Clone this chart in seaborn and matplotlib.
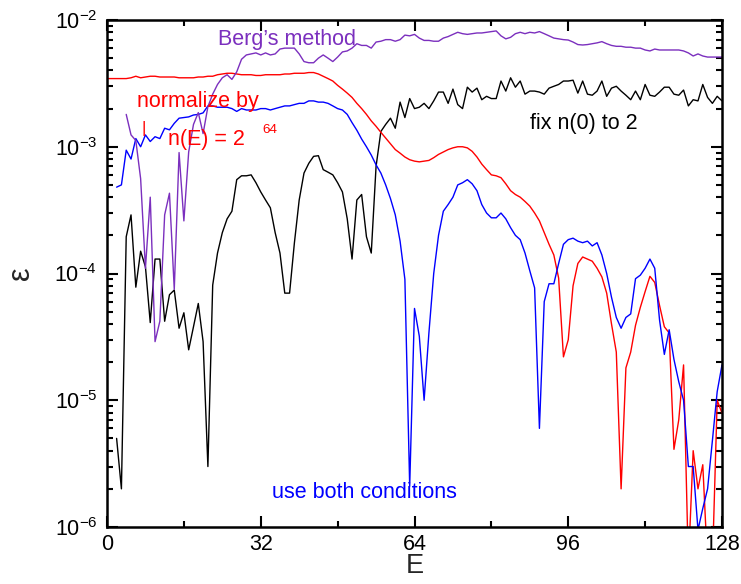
import numpy as np
import pandas as pd
import seaborn as sns
import matplotlib
matplotlib.use("Agg")
import matplotlib.pyplot as plt
from matplotlib.ticker import MultipleLocator, LogLocator, FuncFormatter, NullFormatter

# ---------------- data ----------------
E_red = list(range(0, 129))
red = [3.45e-3, 3.45e-3, 3.45e-3, 3.45e-3, 3.45e-3, 3.5e-3, 3.6e-3, 3.5e-3, 3.55e-3, 3.6e-3,
       3.6e-3, 3.55e-3, 3.55e-3, 3.55e-3, 3.55e-3, 3.5e-3, 3.5e-3, 3.5e-3, 3.5e-3, 3.55e-3,
       3.55e-3, 3.6e-3, 3.6e-3, 3.7e-3, 3.75e-3, 3.8e-3, 3.8e-3, 3.75e-3, 3.7e-3, 3.7e-3,
       3.7e-3, 3.65e-3, 3.65e-3, 3.7e-3, 3.7e-3, 3.7e-3, 3.7e-3, 3.75e-3, 3.75e-3, 3.8e-3,
       3.8e-3, 3.8e-3, 3.85e-3, 3.85e-3, 3.75e-3, 3.6e-3, 3.45e-3, 3.3e-3, 3.05e-3, 2.85e-3,
       2.65e-3, 2.45e-3, 2.2e-3, 2.0e-3, 1.8e-3, 1.6e-3, 1.45e-3, 1.3e-3, 1.17e-3, 1.05e-3,
       9.5e-4, 8.9e-4, 8.3e-4, 7.9e-4, 7.7e-4, 7.6e-4, 7.7e-4, 7.8e-4, 8.2e-4, 8.7e-4,
       9.1e-4, 9.5e-4, 9.8e-4, 1.0e-3, 1.0e-3, 9.8e-4, 9.2e-4, 8.3e-4, 7.3e-4, 6.6e-4,
       6.0e-4, 5.9e-4, 5.7e-4, 5.1e-4, 4.5e-4, 4.2e-4, 4.0e-4, 3.7e-4, 3.4e-4, 3.0e-4,
       2.6e-4, 2.1e-4, 1.7e-4, 1.4e-4, 9.2e-5, 2.2e-5, 3.0e-5, 8.0e-5, 1.2e-4, 1.35e-4,
       1.3e-4, 1.25e-4, 1.1e-4, 9.4e-5, 7.0e-5, 4.0e-5, 2.4e-5, 2.0e-6, 1.8e-5, 2.4e-5,
       3.9e-5, 5.4e-5, 7.2e-5, 9.5e-5, 8.5e-5, 5.6e-5, 3.8e-5, 3.4e-5, 4.1e-6, 7.0e-6,
       1.9e-5, 5.0e-7, 4.0e-6, 2.0e-6, 3.1e-6, 5.0e-7, 5.0e-7, 1.0e-5, 7.9e-6]

E_blue = list(range(2, 129))
blue = [4.8e-4, 5.0e-4, 9.4e-4, 8.0e-4, 1.16e-3, 1.0e-3, 1.24e-3, 1.1e-3, 1.2e-3, 1.16e-3,
        1.4e-3, 1.36e-3, 1.53e-3, 1.68e-3, 1.7e-3, 1.72e-3, 1.78e-3, 1.8e-3, 1.85e-3, 2.1e-3,
        2.1e-3, 2.05e-3, 2.05e-3, 2.05e-3, 2.0e-3, 1.9e-3, 2.0e-3, 1.95e-3, 1.95e-3, 1.95e-3,
        2.0e-3, 2.0e-3, 1.95e-3, 2.0e-3, 2.05e-3, 2.1e-3, 2.1e-3, 2.15e-3, 2.2e-3, 2.2e-3,
        2.3e-3, 2.3e-3, 2.25e-3, 2.25e-3, 2.2e-3, 2.1e-3, 2.0e-3, 1.95e-3, 1.8e-3, 1.55e-3,
        1.35e-3, 1.15e-3, 1.0e-3, 8.6e-4, 7.2e-4, 6.2e-4, 5.0e-4, 3.9e-4, 2.9e-4, 1.8e-4,
        9.0e-5, 2.1e-6, 5.3e-5, 3.2e-5, 1.0e-5, 3.4e-5, 1.0e-4, 2.0e-4, 3.1e-4, 3.5e-4,
        4.0e-4, 5.0e-4, 5.2e-4, 5.5e-4, 5.1e-4, 4.5e-4, 3.5e-4, 3.0e-4, 2.75e-4, 2.75e-4,
        3.0e-4, 2.7e-4, 2.3e-4, 2.0e-4, 1.85e-4, 1.45e-4, 1.05e-4, 7.7e-5, 6.0e-6, 6.0e-5,
        8.3e-5, 8.3e-5, 1.2e-4, 1.7e-4, 1.85e-4, 1.9e-4, 1.8e-4, 1.75e-4, 1.8e-4, 1.65e-4,
        1.75e-4, 1.4e-4, 1.0e-4, 6.5e-5, 4.5e-5, 3.7e-5, 4.5e-5, 4.8e-5, 9.1e-5, 9.7e-5,
        1.1e-4, 1.3e-4, 1.1e-4, 4.3e-5, 2.3e-5, 3.6e-5, 2.1e-5, 1.4e-5, 1.0e-5, 3.0e-6,
        3.0e-6, 9.5e-7, 1.4e-6, 2.0e-6, 4.8e-6, 1.17e-5, 1.9e-5]

E_black = list(range(2, 129))
black = [5.0e-6, 2.0e-6, 1.95e-4, 2.9e-4, 7.8e-5, 1.5e-4, 1.13e-4, 4.1e-5, 1.3e-4, 1.3e-4,
         4.2e-5, 6.8e-5, 7.4e-5, 3.7e-5, 4.9e-5, 2.5e-5, 3.8e-5, 5.8e-5, 2.9e-5, 3.0e-6,
         8.1e-5, 1.45e-4, 2.1e-4, 2.7e-4, 3.1e-4, 5.5e-4, 5.9e-4, 5.9e-4, 6.0e-4, 5.2e-4,
         4.4e-4, 3.8e-4, 3.3e-4, 2.1e-4, 1.45e-4, 7.0e-5, 7.0e-5, 1.74e-4, 3.8e-4, 6.2e-4,
         7.4e-4, 8.4e-4, 8.5e-4, 6.6e-4, 6.3e-4, 6.0e-4, 5.2e-4, 4.4e-4, 2.7e-4, 1.3e-4,
         3.8e-4, 4.2e-4, 1.95e-4, 1.45e-4, 7.0e-4, 1.32e-3, 1.5e-3, 1.68e-3, 1.4e-3, 2.25e-3,
         1.7e-3, 2.4e-3, 2.0e-3, 2.05e-3, 2.2e-3, 2.0e-3, 2.3e-3, 2.7e-3, 2.7e-3, 2.2e-3,
         2.85e-3, 2.15e-3, 2.0e-3, 2.95e-3, 2.7e-3, 2.9e-3, 2.35e-3, 2.5e-3, 2.4e-3, 2.4e-3,
         3.3e-3, 2.75e-3, 3.5e-3, 2.95e-3, 3.3e-3, 2.6e-3, 2.75e-3, 2.75e-3, 2.7e-3, 2.6e-3,
         2.9e-3, 3.0e-3, 3.1e-3, 3.3e-3, 3.3e-3, 3.35e-3, 2.65e-3, 3.3e-3, 2.6e-3, 2.55e-3,
         2.75e-3, 3.3e-3, 2.5e-3, 2.9e-3, 3.0e-3, 2.75e-3, 2.55e-3, 2.35e-3, 2.75e-3, 2.35e-3,
         3.1e-3, 2.55e-3, 2.5e-3, 2.7e-3, 2.95e-3, 2.95e-3, 2.6e-3, 2.55e-3, 2.8e-3, 2.1e-3,
         2.35e-3, 2.3e-3, 3.1e-3, 2.45e-3, 2.2e-3, 2.5e-3, 2.3e-3]

E_berg = list(range(4, 129))
berg = [1.8e-3, 1.24e-3, 1.12e-3, 5.6e-4, 1.1e-4, 4.0e-4, 2.9e-5, 4.2e-5, 2.9e-4, 4.3e-4,
        7.5e-5, 9.0e-4, 2.6e-4, 9.1e-4, 1.5e-3, 1.86e-3, 1.27e-3, 2.07e-3, 2.6e-3, 3.1e-3,
        3.5e-3, 3.7e-3, 3.4e-3, 3.9e-3, 4.9e-3, 5.3e-3, 5.4e-3, 5.5e-3, 5.3e-3, 5.5e-3,
        5.3e-3, 5.4e-3, 5.9e-3, 6.0e-3, 6.0e-3, 6.0e-3, 5.4e-3, 4.7e-3, 4.6e-3, 4.6e-3,
        5.0e-3, 5.3e-3, 5.0e-3, 4.7e-3, 5.1e-3, 5.6e-3, 5.7e-3, 6.0e-3, 6.5e-3, 6.3e-3,
        6.3e-3, 6.0e-3, 6.7e-3, 6.8e-3, 7.0e-3, 7.0e-3, 6.8e-3, 7.0e-3, 7.6e-3, 7.5e-3,
        7.7e-3, 7.2e-3, 6.9e-3, 6.9e-3, 6.8e-3, 6.8e-3, 7.2e-3, 7.4e-3, 7.7e-3, 8.0e-3,
        7.8e-3, 7.7e-3, 7.8e-3, 7.9e-3, 7.9e-3, 8.0e-3, 8.1e-3, 8.2e-3, 7.5e-3, 7.1e-3,
        7.3e-3, 7.8e-3, 8.0e-3, 7.8e-3, 8.0e-3, 7.9e-3, 8.1e-3, 7.8e-3, 7.5e-3, 7.2e-3,
        7.1e-3, 7.0e-3, 6.95e-3, 6.7e-3, 6.4e-3, 6.35e-3, 6.4e-3, 6.5e-3, 6.6e-3, 6.75e-3,
        6.5e-3, 6.3e-3, 6.2e-3, 6.2e-3, 6.1e-3, 6.1e-3, 6.0e-3, 6.0e-3, 5.8e-3, 5.7e-3,
        5.9e-3, 5.8e-3, 5.8e-3, 5.8e-3, 5.8e-3, 5.8e-3, 5.7e-3, 5.5e-3, 5.2e-3, 5.4e-3,
        5.2e-3, 5.1e-3, 5.1e-3, 5.1e-3, 5.1e-3]

x_ticks = [0, 32, 64, 96, 128]

# ---------------- style ----------------
sns.set_theme(style="ticks")
plt.rcParams["font.family"] = ["Liberation Sans", "DejaVu Sans"]
plt.rcParams["mathtext.fontset"] = "custom"
plt.rcParams["mathtext.rm"] = "Liberation Sans"
plt.rcParams["mathtext.it"] = "Liberation Sans:italic"
plt.rcParams["mathtext.default"] = "regular"

fig = plt.figure(figsize=(7.41, 5.84), dpi=100)
ax = fig.add_axes([107 / 741, 1 - 527 / 584, 615 / 741, 507 / 584])

series = [
    (E_black, black, "black"),
    (E_red, red, "#ff0000"),
    (E_blue, blue, "#0000ff"),
    (E_berg, berg, "#7b2fbe"),
]
for ex, vals, col in series:
    df = pd.DataFrame({"E": ex, "eps": vals})
    sns.lineplot(data=df, x="E", y="eps", color=col, lw=1.0, ax=ax,
                 estimator=None, sort=False)

ax.set_yscale("log")
ax.set_xlim(0, 128)
ax.set_ylim(1e-6, 1e-2)
ax.set_xticks(x_ticks)
ax.set_xticklabels([str(t) for t in x_ticks])
ax.xaxis.set_minor_locator(MultipleLocator(16))
ax.yaxis.set_major_locator(LogLocator(base=10, numticks=10))
ax.yaxis.set_minor_locator(LogLocator(base=10, subs=np.arange(2, 10), numticks=20))
ax.yaxis.set_minor_formatter(NullFormatter())
ax.yaxis.set_major_formatter(FuncFormatter(lambda v, p: r"$10^{%d}$" % int(round(np.log10(v)))))

ax.tick_params(which="both", direction="in", top=True, right=True, width=1.5,
               labelsize=15.5, colors="black", pad=7)
ax.tick_params(axis="x", which="both", pad=5)
ax.tick_params(which="major", length=8)
ax.tick_params(which="minor", length=4.5)
for s in ax.spines.values():
    s.set_linewidth(1.8)
    s.set_color("black")

ax.set_xlabel("E", fontsize=19.5, labelpad=-1.5)
ax.set_ylabel("ε", fontsize=22, labelpad=13)

# annotations
ax.text(23.1, 6.35e-3, "Berg’s method", color="#7b2fbe", fontsize=15.5, va="baseline")
ax.text(6.2, 2.05e-3, "normalize by", color="#ff0000", fontsize=15.5, va="baseline")
ax.text(7.7, 1.39e-3, "|", color="#ff0000", fontsize=12, ha="center", va="center")
ax.text(12.7, 1.03e-3, "n(E) = 2", color="#ff0000", fontsize=15.5, va="baseline")
ax.text(32.3, 1.28e-3, "64", color="#ff0000", fontsize=9.7, va="baseline")
ax.text(88.0, 1.38e-3, "fix n(0) to 2", color="black", fontsize=15.5, va="baseline")
ax.text(34.3, 1.68e-6, "use both conditions", color="#0000ff", fontsize=15.5, va="baseline")

fig.savefig("out.png", dpi=100)
